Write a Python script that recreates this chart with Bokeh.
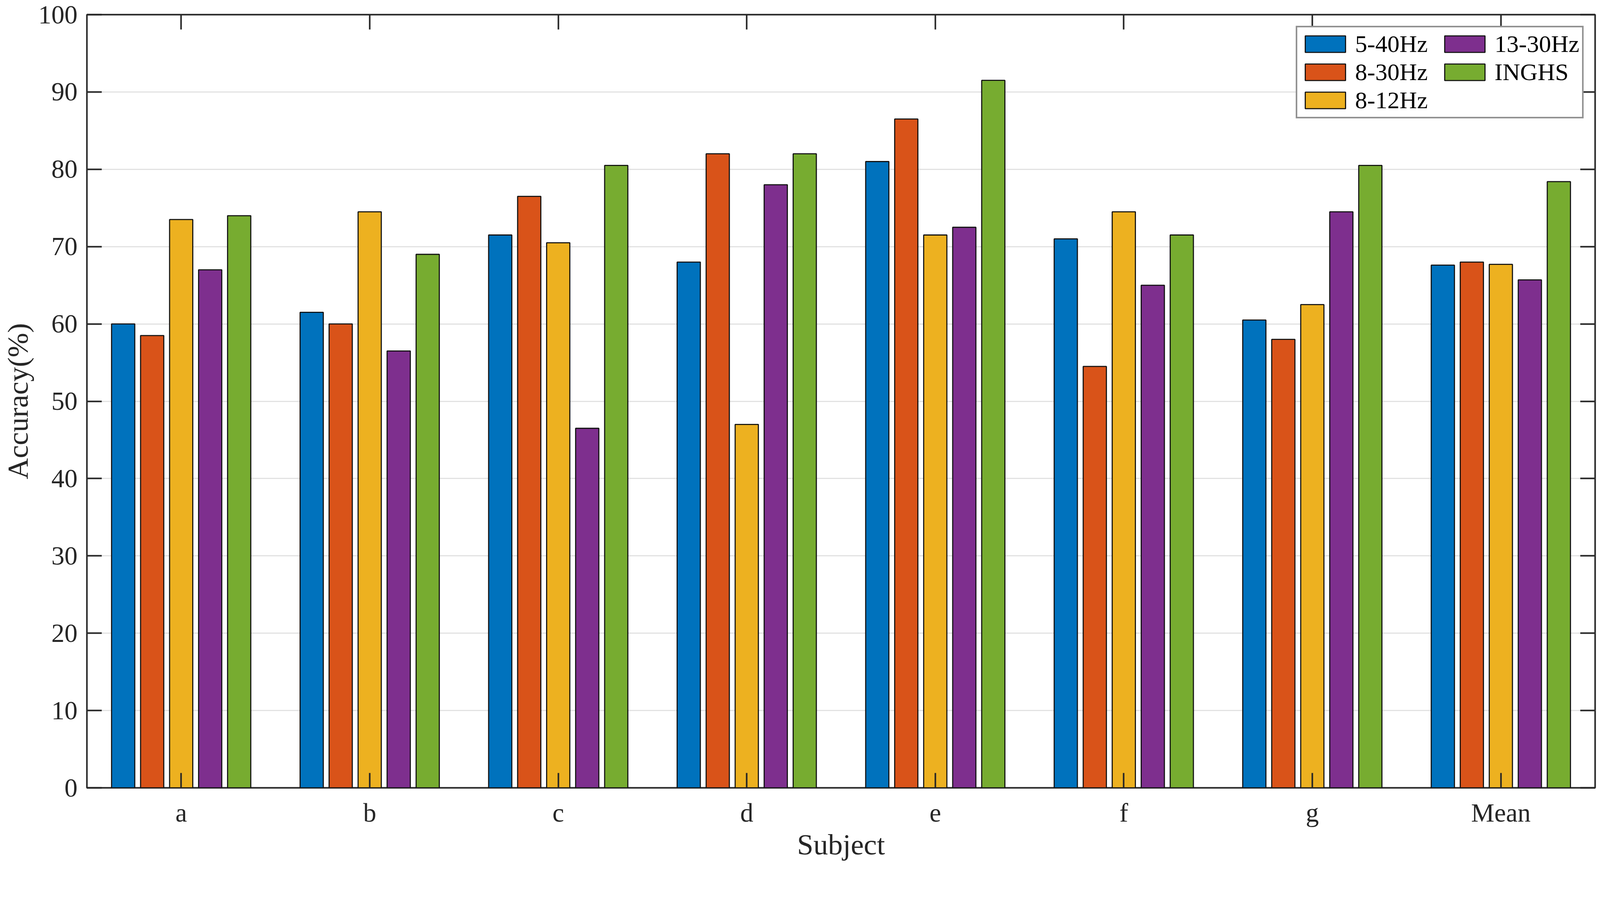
from bokeh.plotting import figure
from bokeh.models import (ColumnDataSource, FixedTicker, LinearAxis, Legend, LegendItem, Range1d)
from bokeh.transform import dodge
from bokeh.embed import file_html
from bokeh.resources import INLINE

# ---- data ----
subjects = ["a", "b", "c", "d", "e", "f", "g", "Mean"]
band_5_40 = [60.0, 61.5, 71.5, 68.0, 81.0, 71.0, 60.5, 67.6]
band_8_30 = [58.5, 60.0, 76.5, 82.0, 86.5, 54.5, 58.0, 68.0]
band_8_12 = [73.5, 74.5, 70.5, 47.0, 71.5, 74.5, 62.5, 67.7]
band_13_30 = [67.0, 56.5, 46.5, 78.0, 72.5, 65.0, 74.5, 65.7]
inghs = [74.0, 69.0, 80.5, 82.0, 91.5, 71.5, 80.5, 78.4]
series_names = ["5-40Hz", "8-30Hz", "8-12Hz", "13-30Hz", "INGHS"]
series_colors = ["#0072BD", "#D95319", "#EDB120", "#7E2F8E", "#77AC30"]
y_ticks = list(range(0, 101, 10))

FONT = "Liberation Serif"
AX = "#262626"

xpos = list(range(1, len(subjects) + 1))
src = ColumnDataSource(dict(x=xpos, s0=band_5_40, s1=band_8_30, s2=band_8_12,
                            s3=band_13_30, s4=inghs))

p = figure(width=4090, height=2210, output_backend="svg", toolbar_location=None,
           x_range=Range1d(0.5, 8.5), y_range=Range1d(0, 100),
           min_border_left=216, min_border_right=7, min_border_top=37,
           min_border_bottom=194)
p.background_fill_color = "white"
p.border_fill_color = "white"
p.outline_line_color = AX
p.outline_line_width = 4
p.outline_line_alpha = 1.0

# grid
p.xgrid.grid_line_color = None
p.ygrid.ticker = FixedTicker(ticks=y_ticks)
p.ygrid.grid_line_color = "#e2e2e2"
p.ygrid.grid_line_width = 3

# bars (MATLAB grouped layout)
n = len(series_names)
group_w = min(0.8, n / (n + 1.5))
step = group_w / n
bar_w = step * 0.8
renderers = []
for i, col in enumerate(["s0", "s1", "s2", "s3", "s4"]):
    off = (i - (n - 1) / 2) * step
    r = p.vbar(x=dodge("x", off, range=p.x_range), top=col, width=bar_w, bottom=0,
               source=src, fill_color=series_colors[i], line_color="#111111",
               line_width=2.8)
    renderers.append(r)

# axes
xlabels = {i + 1: s for i, s in enumerate(subjects)}
for ax in p.xaxis:
    ax.ticker = FixedTicker(ticks=xpos)
    ax.major_label_overrides = xlabels
    ax.axis_label = "Subject"
for ax in p.yaxis:
    ax.ticker = FixedTicker(ticks=y_ticks)
    ax.axis_label = "Accuracy(%)"

for ax in p.xaxis + p.yaxis:
    ax.axis_line_color = None
    ax.major_tick_in = 38
    ax.major_tick_out = 0
    ax.minor_tick_line_color = None
    ax.major_tick_line_color = AX
    ax.major_tick_line_width = 4
    ax.major_label_text_font = FONT
    ax.major_label_text_font_size = "67px"
    ax.major_label_text_color = AX
    ax.axis_label_text_font = FONT
    ax.axis_label_text_font_size = "75px"
    ax.axis_label_text_font_style = "normal"
    ax.axis_label_text_color = AX

p.xaxis.major_label_standoff = 26
p.xaxis.axis_label_standoff = 0
p.yaxis.major_label_standoff = 24
p.yaxis.axis_label_standoff = 8

# mirrored tick marks on top and right (no labels)
def tick_axis(ticks):
    return LinearAxis(ticker=FixedTicker(ticks=ticks), major_label_text_font_size="0px",
                      major_label_text_color=None, major_label_standoff=0,
                      axis_line_color=None, major_tick_in=38, major_tick_out=0,
                      major_tick_line_color=AX, major_tick_line_width=4,
                      minor_tick_line_color=None)

p.add_layout(tick_axis(xpos), "above")
p.add_layout(tick_axis(y_ticks), "right")

# legend (two columns, filled column-wise)
items = [LegendItem(label=series_names[i], renderers=[renderers[i]]) for i in range(n)]
legend = Legend(items=items, location="top_right", orientation="vertical", nrows=3,
                margin=29, padding=7, spacing=1,
                glyph_width=129, glyph_height=53, label_standoff=12, label_width=215,
                label_text_font=FONT, label_text_font_size="62px", label_text_color="black",
                border_line_color=AX, border_line_width=4, background_fill_color="white",
                background_fill_alpha=1.0)
p.add_layout(legend, "center")

open("out.html", "w").write(file_html(p, INLINE))
